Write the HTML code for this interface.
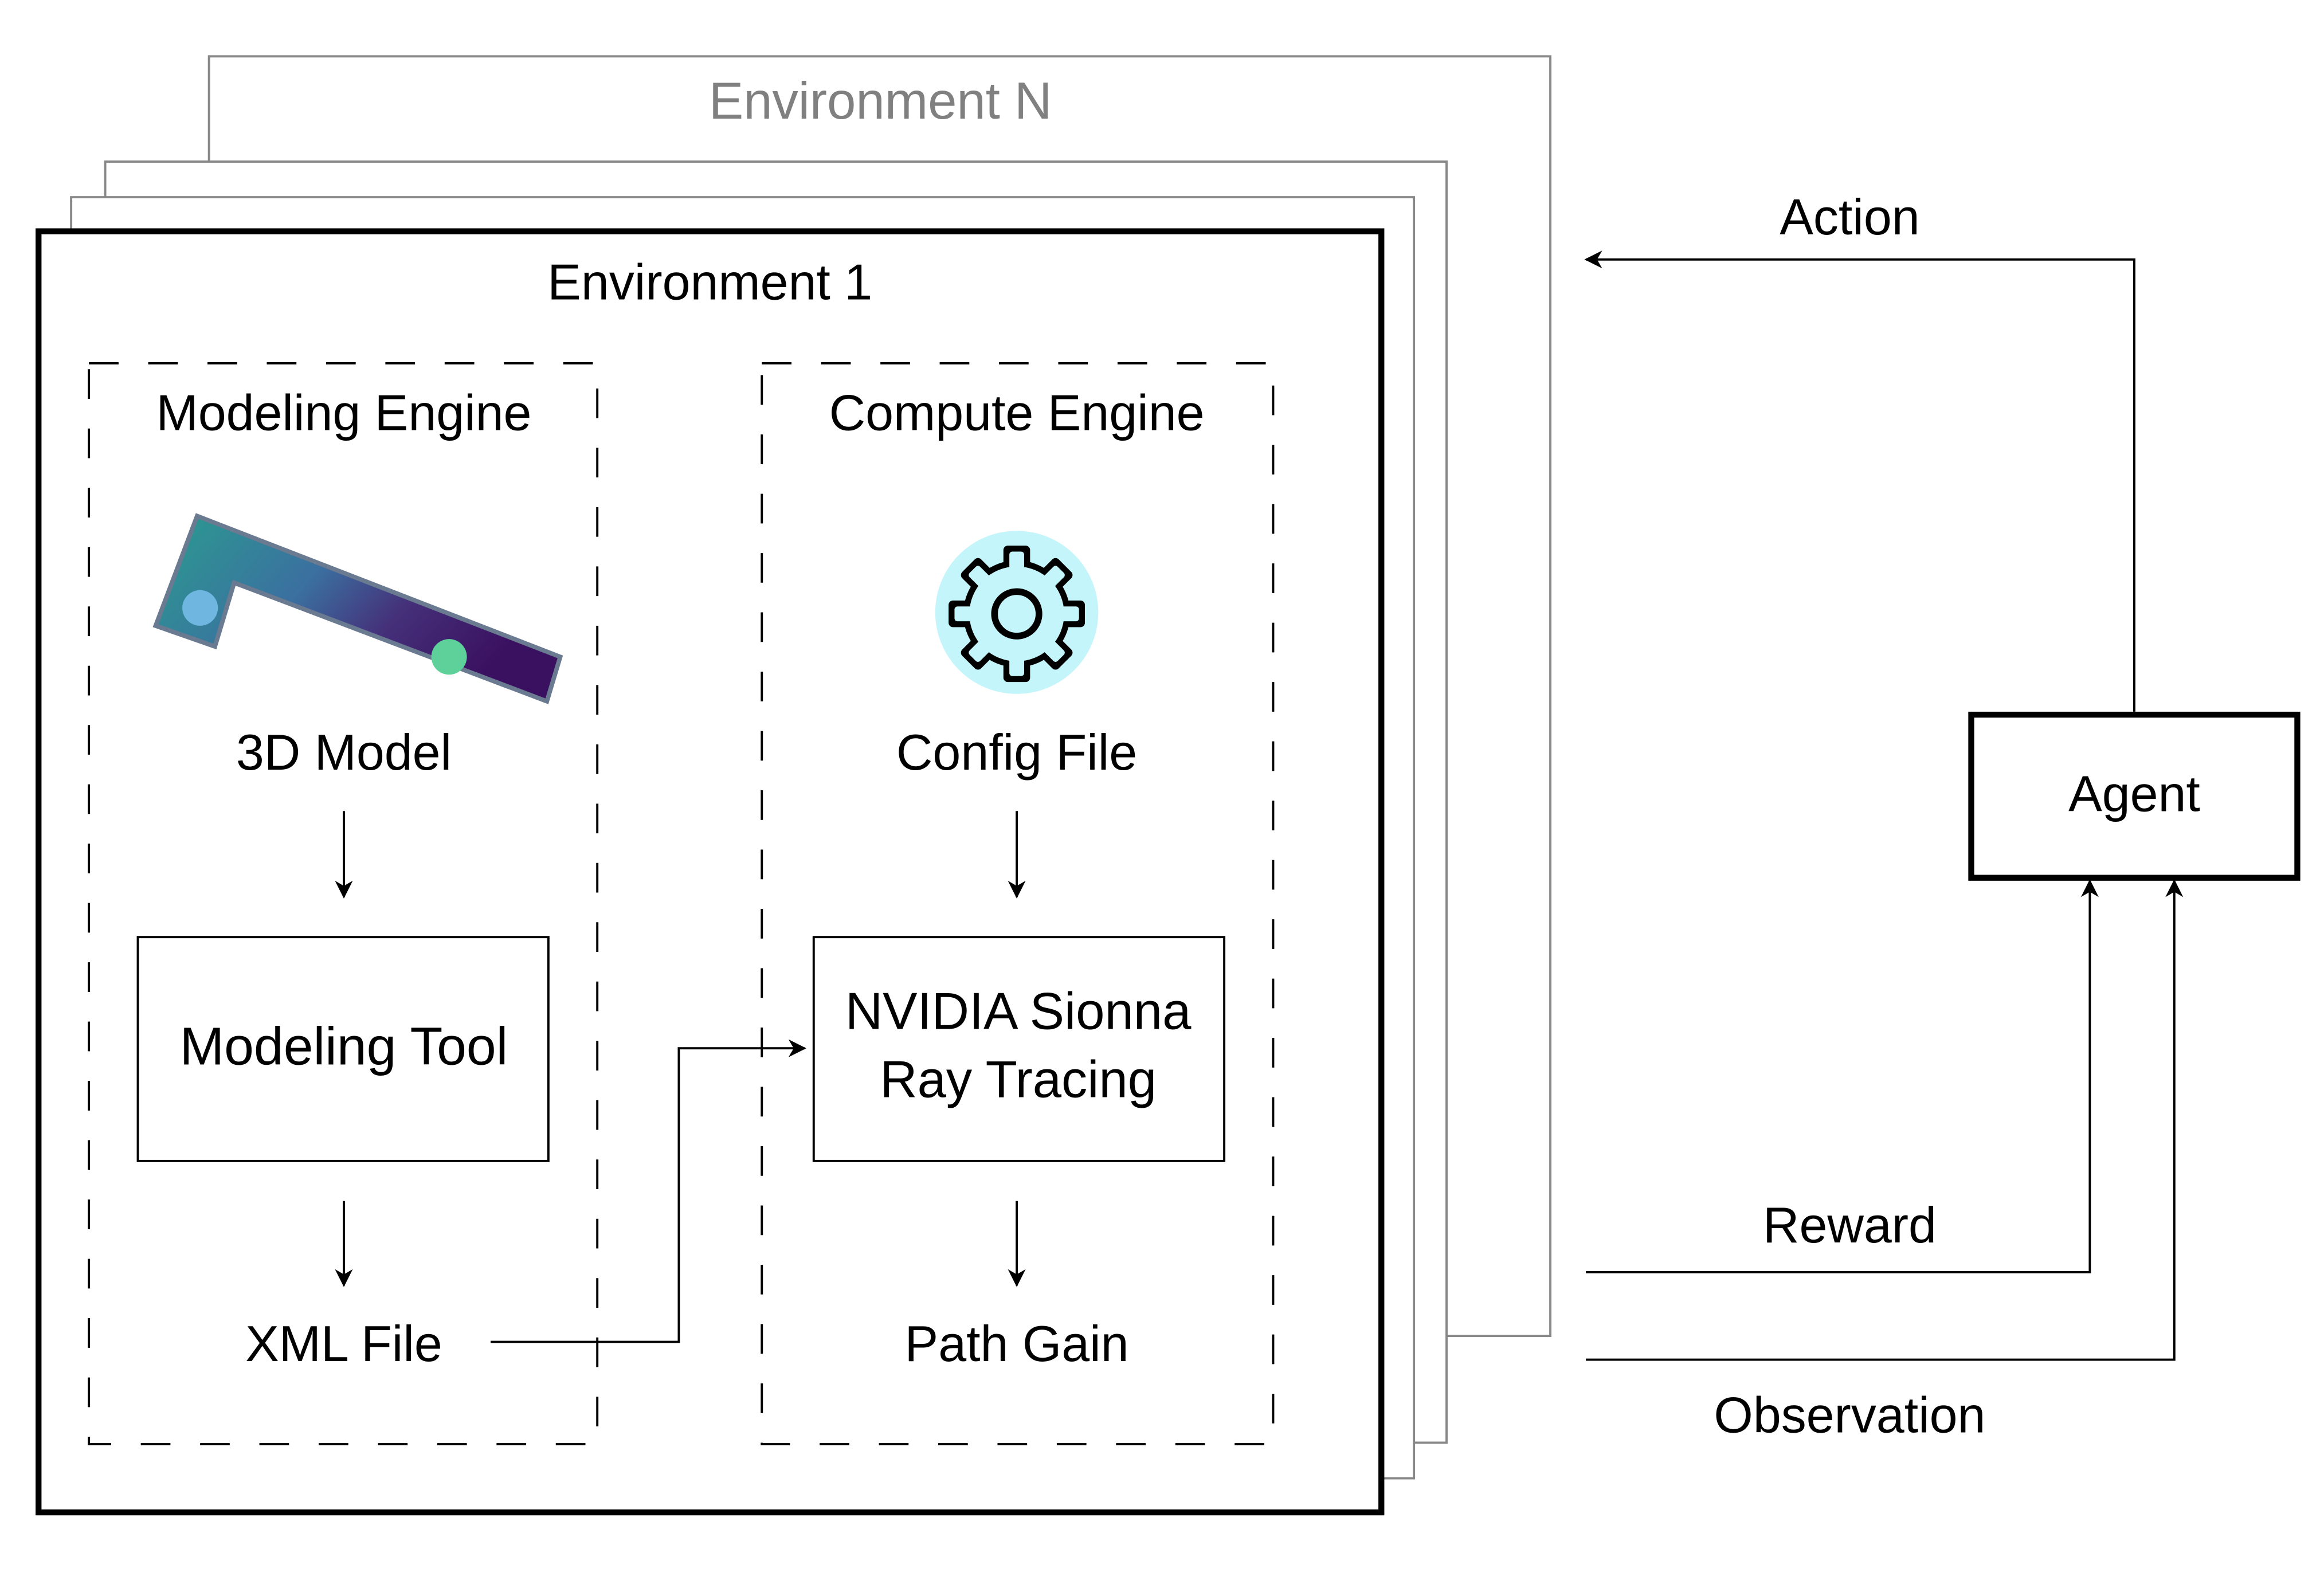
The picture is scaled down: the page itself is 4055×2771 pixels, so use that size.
<!DOCTYPE html>
<html><head><meta charset="utf-8"><style>
html,body{margin:0;padding:0;background:#fff;}
svg{display:block;}
text{font-family:"Liberation Sans",sans-serif;}
</style></head><body>
<svg width="4055" height="2771" viewBox="0 0 1568 1071" preserveAspectRatio="none" xmlns="http://www.w3.org/2000/svg">
<defs>
<marker id="ah" markerWidth="12" markerHeight="12" refX="11" refY="6" orient="auto" markerUnits="userSpaceOnUse">
<path d="M0,0 L12,6 L0,12 L3.5,6 Z" fill="#000"/>
</marker>
<linearGradient id="mg" x1="0" y1="0" x2="1" y2="0.4">
<stop offset="0" stop-color="#2a9d8f"/>
<stop offset="0.45" stop-color="#3b6fa0"/>
<stop offset="0.7" stop-color="#45307a"/>
<stop offset="1" stop-color="#3a1060"/>
</linearGradient>
</defs>
<rect width="1568" height="1071" fill="#fff"/>
<rect x="141" y="38" width="905" height="863" fill="#fff" stroke="#888" stroke-width="1.5"/>
<text x="594" y="80" font-size="35" fill="#808080" text-anchor="middle">Environment N</text>
<rect x="71" y="109" width="905" height="864" fill="#fff" stroke="#888" stroke-width="1.5"/>
<rect x="48" y="133" width="906" height="864" fill="#fff" stroke="#888" stroke-width="1.5"/>
<rect x="26" y="156" width="906" height="864" fill="#fff" stroke="#000" stroke-width="4"/>
<text x="479" y="202" font-size="34" text-anchor="middle">Environment 1</text>
<rect x="60" y="245" width="343" height="729" fill="none" stroke="#000" stroke-width="1.5" stroke-dasharray="20,20"/>
<rect x="514" y="245" width="345" height="729" fill="none" stroke="#000" stroke-width="1.5" stroke-dasharray="20,20"/>
<text x="232" y="290" font-size="34" text-anchor="middle">Modeling Engine</text>
<text x="686" y="290" font-size="34" text-anchor="middle">Compute Engine</text>
<polygon points="133,348 378,443 369,473 158,393 145,436 105,422" fill="url(#mg)" stroke="#6a7a90" stroke-width="3"/>
<circle cx="135" cy="410" r="12" fill="#6fb6e0"/>
<circle cx="303" cy="443" r="12" fill="#5ed09a"/>
<circle cx="686" cy="413" r="55" fill="#c4f5fa"/>
<g transform="translate(686,414)">
<g fill="#000">
<circle r="36"/>
<rect x="-9" y="-46" width="18" height="20" rx="3"/>
<rect x="-9" y="-46" width="18" height="20" rx="3" transform="rotate(45)"/>
<rect x="-9" y="-46" width="18" height="20" rx="3" transform="rotate(90)"/>
<rect x="-9" y="-46" width="18" height="20" rx="3" transform="rotate(135)"/>
<rect x="-9" y="-46" width="18" height="20" rx="3" transform="rotate(180)"/>
<rect x="-9" y="-46" width="18" height="20" rx="3" transform="rotate(225)"/>
<rect x="-9" y="-46" width="18" height="20" rx="3" transform="rotate(270)"/>
<rect x="-9" y="-46" width="18" height="20" rx="3" transform="rotate(315)"/>
</g>
<g fill="#c4f5fa">
<circle r="32"/>
<rect x="-5" y="-42" width="10" height="16" rx="2"/>
<rect x="-5" y="-42" width="10" height="16" rx="2" transform="rotate(45)"/>
<rect x="-5" y="-42" width="10" height="16" rx="2" transform="rotate(90)"/>
<rect x="-5" y="-42" width="10" height="16" rx="2" transform="rotate(135)"/>
<rect x="-5" y="-42" width="10" height="16" rx="2" transform="rotate(180)"/>
<rect x="-5" y="-42" width="10" height="16" rx="2" transform="rotate(225)"/>
<rect x="-5" y="-42" width="10" height="16" rx="2" transform="rotate(270)"/>
<rect x="-5" y="-42" width="10" height="16" rx="2" transform="rotate(315)"/>
</g>
<circle r="15" fill="none" stroke="#000" stroke-width="4.5"/>
</g>
<text x="232" y="519" font-size="34" text-anchor="middle">3D Model</text>
<text x="686" y="519" font-size="34" text-anchor="middle">Config File</text>
<g stroke="#000" stroke-width="1.5" fill="none">
<line x1="232" y1="547" x2="232" y2="605" marker-end="url(#ah)"/>
<line x1="686" y1="547" x2="686" y2="605" marker-end="url(#ah)"/>
<line x1="232" y1="810" x2="232" y2="867" marker-end="url(#ah)"/>
<line x1="686" y1="810" x2="686" y2="867" marker-end="url(#ah)"/>
<polyline points="331,905 458,905 458,707 543,707" marker-end="url(#ah)"/>
</g>
<rect x="93" y="632" width="277" height="151" fill="none" stroke="#000" stroke-width="1.5"/>
<rect x="549" y="632" width="277" height="151" fill="none" stroke="#000" stroke-width="1.5"/>
<text x="232" y="718" font-size="36" text-anchor="middle">Modeling Tool</text>
<text x="687" y="694" font-size="35" text-anchor="middle">NVIDIA Sionna</text>
<text x="687" y="740" font-size="35" text-anchor="middle">Ray Tracing</text>
<text x="232" y="918" font-size="34" text-anchor="middle">XML File</text>
<text x="686" y="918" font-size="34" text-anchor="middle">Path Gain</text>
<rect x="1330" y="482" width="220" height="110" fill="#fff" stroke="#000" stroke-width="4"/>
<text x="1440" y="547" font-size="34" text-anchor="middle">Agent</text>
<g stroke="#000" stroke-width="1.5" fill="none">
<polyline points="1440,480 1440,175 1070,175" marker-end="url(#ah)"/>
<polyline points="1070,858 1410,858 1410,594" marker-end="url(#ah)"/>
<polyline points="1070,917 1467,917 1467,594" marker-end="url(#ah)"/>
</g>
<text x="1248" y="158" font-size="34" text-anchor="middle">Action</text>
<text x="1248" y="838" font-size="34" text-anchor="middle">Reward</text>
<text x="1248" y="966" font-size="34" text-anchor="middle">Observation</text>
</svg>
</body></html>
